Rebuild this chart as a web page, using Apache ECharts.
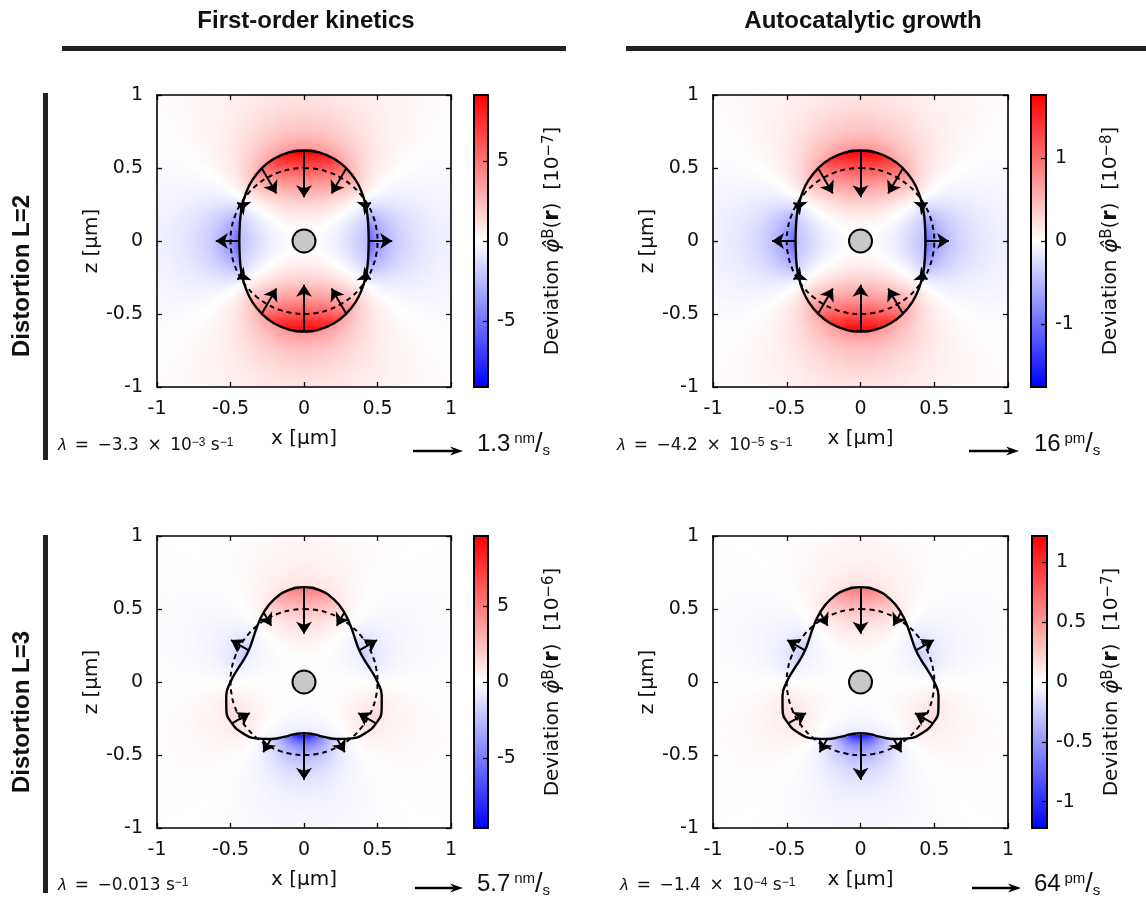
<!DOCTYPE html>
<html><head><meta charset="utf-8">
<script src="https://cdn.jsdelivr.net/npm/echarts@6/dist/echarts.min.js"></script>
<style>html,body{margin:0;padding:0;background:#fff}#c{width:1146px;height:905px}</style>
</head><body><div id="c"></div>
<script>
// ---------------- data ----------------
const columnTitles = ['First-order kinetics', 'Autocatalytic growth'];
const rowTitles = ['Distortion L=2', 'Distortion L=3'];
const axisTicks = [-1, -0.5, 0, 0.5, 1];
// polar angle from +z axis, degrees (10° steps)
const thetaDeg = [0, 10, 20, 30, 40, 50, 60, 70, 80, 90, 100, 110, 120, 130, 140, 150, 160, 170, 180];
// angular pattern of the deviation field (value relative to the pole)
const angularL2 = [1, 0.955, 0.825, 0.625, 0.38, 0.12, -0.125, -0.325, -0.455, -0.5, -0.455, -0.325, -0.125, 0.12, 0.38, 0.625, 0.825, 0.955, 1];
const angularL3 = [1, 0.911, 0.665, 0.325, -0.025, -0.3, -0.4375, -0.413, -0.247, 0, 0.247, 0.413, 0.4375, 0.3, 0.025, -0.325, -0.665, -0.911, -1];
// radius of the distorted droplet (solid curve), µm
const shapeL2 = [0.62, 0.615, 0.599, 0.575, 0.546, 0.514, 0.485, 0.461, 0.445, 0.44, 0.445, 0.461, 0.485, 0.514, 0.546, 0.575, 0.599, 0.615, 0.62];
const shapeL3 = [0.65, 0.637, 0.6, 0.549, 0.496, 0.455, 0.434, 0.438, 0.463, 0.5, 0.537, 0.562, 0.566, 0.545, 0.504, 0.451, 0.4, 0.363, 0.35];
const baseRadius = 0.5;           // dashed circle, µm
const coreRadius = 0;             // centre marker position
// interface velocity arrows: angle and length (positive = inward), µm
const arrowTheta = [0, 30, 60, 90, 120, 150, 180];
const arrowLenL2 = [0.32, 0.2, -0.04, -0.16, -0.04, 0.2, 0.32];
const arrowLenL3 = [0.32, 0.104, -0.14, 0, 0.14, -0.104, -0.32];
// radial profiles of the field along the pole direction
const innerR = [0.1, 0.2, 0.3, 0.4, 0.5, 0.6, 0.7];
const outerR = [0.3, 0.35, 0.4, 0.45, 0.5, 0.6, 0.7, 0.8, 1.0, 1.2, 1.5];
const innerA = [0.25, 0.99, 2.22, 3.95, 6.18, 8.9, 12.1];
const outerA = [35.0, 22.0, 14.8, 10.4, 7.6, 4.4, 2.8, 1.9, 1.0, 0.6, 0.31];
const innerB = [0.048, 0.19, 0.43, 0.76, 1.19, 1.72, 2.34];
const outerB = [6.8, 4.25, 2.85, 2.0, 1.47, 0.85, 0.54, 0.37, 0.19, 0.115, 0.06];
const innerC = [0.019, 0.154, 0.52, 1.24, 2.41, 4.17, 6.62];
const outerC = [17.8, 10.0, 6.2, 4.1, 2.85, 1.55, 0.92, 0.58, 0.27, 0.14, 0.065];
const innerD = [0.0024, 0.0196, 0.066, 0.158, 0.306, 0.53, 0.84];
const outerD = [2.26, 1.27, 0.79, 0.52, 0.362, 0.197, 0.117, 0.074, 0.034, 0.018, 0.0083];
// colour bar ranges and ticks
const cbRange = [9.1, 1.76, 9.6, 1.22];
const cbTicksA = [-5, 0, 5];
const cbTicksB = [-1, 0, 1];
const cbTicksC = [-5, 0, 5];
const cbTicksD = [-1, -0.5, 0, 0.5, 1];
const cbExponent = ['−7', '−8', '−6', '−7'];
const lambdaText = ['−3.3 × 10{sup|−3} s{sup|−1}', '−4.2 × 10{sup|−5} s{sup|−1}', '−0.013 s{sup|−1}', '−1.4 × 10{sup|−4} s{sup|−1}'];
const speedValue = ['1.3', '16', '5.7', '64'];
const speedUnit = ['nm', 'pm', 'nm', 'pm'];

// ---------------- layout (pixels) ----------------
const layout = [
  {plot: [157, 95, 294, 292], cb: [474, 95, 14, 292], lam: [58, 446], arr: [413, 463, 451], spd: [477, 446]},
  {plot: [713, 95, 295, 292], cb: [1031, 95, 15, 292], lam: [617, 446], arr: [969, 1019, 451], spd: [1034, 446]},
  {plot: [157, 536, 294, 292], cb: [474, 536, 14, 292], lam: [58, 886], arr: [415, 463, 888], spd: [477, 886]},
  {plot: [713, 536, 295, 292], cb: [1032, 536, 15, 292], lam: [620, 886], arr: [972, 1021, 888], spd: [1034, 886]}
];

const panels = [
  {shape: shapeL2, angular: angularL2, arrows: arrowLenL2, inner: innerA, outer: outerA, ticks: cbTicksA},
  {shape: shapeL2, angular: angularL2, arrows: arrowLenL2, inner: innerB, outer: outerB, ticks: cbTicksB},
  {shape: shapeL3, angular: angularL3, arrows: arrowLenL3, inner: innerC, outer: outerC, ticks: cbTicksC},
  {shape: shapeL3, angular: angularL3, arrows: arrowLenL3, inner: innerD, outer: outerD, ticks: cbTicksD}
];

const FONT = 'DejaVu Sans';
const TITLEFONT = '"Liberation Sans Narrow", "Liberation Sans", sans-serif';
const INK = '#111';
const STEP = 180 / (thetaDeg.length - 1);

function angInterp(arr, deg) {
  const n = arr.length - 1;
  const t = deg / STEP; const i = Math.min(Math.floor(t), n - 1); const f = t - i;
  const g = k => arr[k < 0 ? -k : (k > n ? 2 * n - k : k)];
  const p0 = g(i - 1), p1 = g(i), p2 = g(i + 1), p3 = g(i + 2);
  return 0.5 * ((2 * p1) + (-p0 + p2) * f + (2 * p0 - 5 * p1 + 4 * p2 - p3) * f * f + (-p0 + 3 * p1 - 3 * p2 + p3) * f * f * f);
}
function logInterp(rs, vs, r) {
  let i = 0; while (i < rs.length - 2 && r > rs[i + 1]) i++;
  const x0 = Math.log(rs[i]), x1 = Math.log(rs[i + 1]);
  const y0 = Math.log(vs[i]), y1 = Math.log(vs[i + 1]);
  const t = (Math.log(r) - x0) / (x1 - x0);
  return Math.exp(y0 + t * (y1 - y0));
}
const N = 140;
const cats = Array.from({length: N}, (_, i) => i);
function buildField(p, range) {
  const data = [];
  for (let j = 0; j < N; j++) {
    const z = -1 + (j + 0.5) * 2 / N;
    for (let i = 0; i < N; i++) {
      const x = -1 + (i + 0.5) * 2 / N;
      const r = Math.hypot(x, z);
      const th = Math.acos(Math.max(-1, Math.min(1, z / r))) * 180 / Math.PI;
      const R = angInterp(p.shape, th);
      const a = angInterp(p.angular, th);
      const amp = r < R ? logInterp(innerR, p.inner, r) : logInterp(outerR, p.outer, r);
      let v = amp * a; v = Math.max(-range, Math.min(range, v));
      data.push([i, j, +v.toFixed(4)]);
    }
  }
  return data;
}
function loopPoints(radii, overlap) {
  const pts = [];
  const d0 = overlap ? -STEP : 0, d1 = overlap ? 360 + STEP : 360;
  for (let d = d0; d <= d1 + 1e-9; d += STEP) {
    const dd = ((d % 360) + 360) % 360;
    const k = Math.round(dd <= 180 ? dd / STEP : (360 - dd) / STEP);
    const R = radii[k]; const rad = dd * Math.PI / 180;
    pts.push([R * Math.sin(rad), R * Math.cos(rad)]);
  }
  return pts;
}
function arrowData(p) {
  const out = [];
  arrowTheta.forEach((deg, k) => {
    const len = p.arrows[k]; if (Math.abs(len) < 1e-6) return;
    const R = p.shape[Math.round(deg / STEP)];
    [1, -1].forEach(s => {
      if ((deg === 0 || deg === 180) && s === -1) return;
      const rad = deg * Math.PI / 180; const sx = s * Math.sin(rad), sz = Math.cos(rad);
      out.push({coords: [[R * sx, R * sz], [(R - len) * sx, (R - len) * sz]]});
    });
  });
  return out;
}

const option = {animation: false, textStyle: {fontFamily: FONT}, grid: [], xAxis: [], yAxis: [], visualMap: [], series: [], graphic: []};
const blk = {color: '#000', width: 1.6};
const tickStyle = {show: true, inside: true, length: 5, lineStyle: {color: '#000', width: 1.3}};
function valAxis(extra) {
  return Object.assign({type: 'value', min: -1, max: 1, interval: 0.5, z: 10, splitLine: {show: false},
    axisLine: {show: true, onZero: false, lineStyle: blk}, axisTick: tickStyle,
    axisLabel: {show: false}}, extra);
}
const SP = '\u2002';

panels.forEach((p, k) => {
  const L = layout[k];
  const [pl, pt, pw, ph] = L.plot;
  const [cl, ct, cw, chh] = L.cb;
  const range = cbRange[k];
  // heat grid
  const gH = option.grid.length;
  option.grid.push({left: pl, top: pt, width: pw, height: ph, show: false});
  const xH = option.xAxis.length; option.xAxis.push({gridIndex: gH, type: 'category', data: cats, show: false});
  const yH = option.yAxis.length; option.yAxis.push({gridIndex: gH, type: 'category', data: cats, show: false});
  const sH = option.series.length;
  option.series.push({type: 'heatmap', xAxisIndex: xH, yAxisIndex: yH, data: buildField(p, range),
    progressive: 0, silent: true, z: 1, emphasis: {disabled: true}});
  option.visualMap.push({type: 'continuous', min: -range, max: range, seriesIndex: sH, show: true,
    calculable: false, hoverLink: false, itemWidth: cw, itemHeight: chh, left: cl, top: ct, padding: 0,
    inRange: {color: ['#0000ff', '#ffffff', '#ff0000']}, text: null});
  // main value grid
  const gM = option.grid.length;
  option.grid.push({left: pl, top: pt, width: pw, height: ph, show: false});
  const lab = {show: true, color: INK, fontSize: 19, showMinLabel: true, showMaxLabel: true};
  const xB = option.xAxis.length;
  option.xAxis.push(valAxis({gridIndex: gM, position: 'bottom',
    axisLabel: Object.assign({margin: 13}, lab),
    name: 'x [μm]', nameLocation: 'middle', nameGap: 42, nameTextStyle: {fontSize: 20, color: INK}}));
  option.xAxis.push(valAxis({gridIndex: gM, position: 'top'}));
  const yL = option.yAxis.length;
  option.yAxis.push(valAxis({gridIndex: gM, position: 'left',
    axisLabel: Object.assign({margin: 14}, lab),
    name: 'z [μm]', nameLocation: 'middle', nameGap: 50, nameRotate: 90, nameTextStyle: {fontSize: 20, color: INK}}));
  option.yAxis.push(valAxis({gridIndex: gM, position: 'right'}));
  const base = {xAxisIndex: xB, yAxisIndex: yL, silent: true};
  option.series.push(Object.assign({type: 'line', data: loopPoints(thetaDeg.map(() => baseRadius), false), smooth: 0.5,
    showSymbol: false, lineStyle: {color: '#000', width: 2, type: [5, 4]}, z: 4}, base));
  option.series.push(Object.assign({type: 'line', data: loopPoints(p.shape, true), smooth: 0.5,
    showSymbol: false, lineStyle: {color: '#000', width: 2.4, join: 'round'}, z: 5}, base));
  option.series.push(Object.assign({type: 'lines', coordinateSystem: 'cartesian2d', data: arrowData(p),
    symbol: ['none', 'arrow'], symbolSize: [8, 12], lineStyle: {color: '#000', width: 2, opacity: 1, curveness: 0}, z: 6}, base));
  option.series.push(Object.assign({type: 'scatter', data: [[coreRadius, coreRadius]], symbolSize: 23,
    itemStyle: {color: '#c8c8c8', borderColor: '#000', borderWidth: 2, opacity: 1}, z: 7}, base));
  // colour bar axes
  const gC = option.grid.length;
  option.grid.push({left: cl, top: ct, width: cw, height: chh, show: false});
  const cax = {type: 'value', min: -range, max: range, z: 10, splitLine: {show: false},
    axisLine: {show: true, onZero: false, lineStyle: {color: '#000', width: 2}}, axisTick: {show: false}, axisLabel: {show: false}};
  option.xAxis.push(Object.assign({gridIndex: gC, position: 'bottom'}, cax));
  option.xAxis.push(Object.assign({gridIndex: gC, position: 'top'}, cax));
  option.yAxis.push(Object.assign({gridIndex: gC, position: 'left'}, cax));
  option.yAxis.push(Object.assign({}, cax, {gridIndex: gC, position: 'right',
    axisTick: {show: true, inside: true, length: 5, customValues: p.ticks, lineStyle: {color: '#000', width: 1.3}},
    axisLabel: {show: true, customValues: p.ticks, color: INK, fontSize: 19, margin: 9},
    name: 'Deviation {phi|φ̂}{sup|B}({bf|r})  [10{sup|' + cbExponent[k] + '}]',
    nameLocation: 'middle', nameRotate: 90, nameGap: 54,
    nameTextStyle: {fontSize: 20, color: INK, rich: {
      phi: {fontSize: 22, fontStyle: 'italic', color: INK},
      sup: {fontSize: 15, verticalAlign: 'top', color: INK},
      bf: {fontSize: 21, fontWeight: 'bold', color: INK}}}}));
  // lambda annotation
  option.graphic.push({type: 'text', left: L.lam[0], top: L.lam[1] - 9, z: 20,
    style: {text: '{it|λ}' + SP + '=' + SP + lambdaText[k].replace(' × ', SP + '×' + SP), fill: INK, fontSize: 17, fontFamily: FONT,
      rich: {it: {fontStyle: 'italic', fontSize: 17, fill: INK}, sup: {fontSize: 12, verticalAlign: 'top', fill: INK}}}});
  // scale arrow
  const [a0, a1, ay] = L.arr;
  option.graphic.push({type: 'line', z: 20, shape: {x1: a0, y1: ay, x2: a1 - 6, y2: ay}, style: {stroke: '#000', lineWidth: 2.4}});
  option.graphic.push({type: 'polygon', z: 20, shape: {points: [[a1, ay], [a1 - 13, ay - 4.5], [a1 - 9, ay], [a1 - 13, ay + 4.5]]}, style: {fill: '#000'}});
  option.graphic.push({type: 'text', left: L.spd[0], top: L.spd[1] - 15, z: 20,
    style: {text: '{n|' + speedValue[k] + '} {u|' + speedUnit[k] + '}{sl|/}{s|s}', fill: INK, fontFamily: FONT,
      rich: {n: {fontSize: 24, fill: INK}, u: {fontSize: 15, verticalAlign: 'top', fill: INK},
        sl: {fontSize: 27, fill: INK}, s: {fontSize: 15, verticalAlign: 'bottom', fill: INK}}}});
});

// column titles and bars
[[306, 62, 504], [863, 626, 520]].forEach((c, i) => {
  option.graphic.push({type: 'text', x: c[0], y: 21, z: 20,
    style: {text: columnTitles[i], fill: INK, fontSize: 24, fontWeight: 'bold', fontFamily: TITLEFONT, align: 'center', verticalAlign: 'middle'}});
  option.graphic.push({type: 'rect', z: 20, shape: {x: c[1], y: 46, width: c[2], height: 5}, style: {fill: '#222'}});
});
// row titles and bars
[[276, 93, 367], [712, 535, 358]].forEach((r, i) => {
  option.graphic.push({type: 'text', x: 22, y: r[0], rotation: Math.PI / 2, z: 20,
    style: {text: rowTitles[i], fill: INK, fontSize: 24, fontWeight: 'bold', fontFamily: TITLEFONT, align: 'center', verticalAlign: 'middle'}});
  option.graphic.push({type: 'rect', z: 20, shape: {x: 43, y: r[1], width: 5, height: r[2]}, style: {fill: '#222'}});
});

const chart = echarts.init(document.getElementById('c'), null, {renderer: 'canvas'});
chart.setOption(option);
</script></body></html>
